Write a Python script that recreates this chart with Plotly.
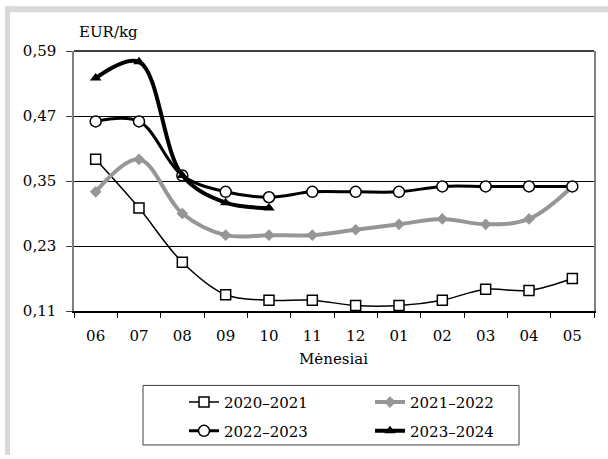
import plotly.graph_objects as go

months = ["06", "07", "08", "09", "10", "11", "12", "01", "02", "03", "04", "05"]
s2020 = [0.39, 0.30, 0.20, 0.14, 0.13, 0.13, 0.12, 0.12, 0.13, 0.15, 0.148, 0.17]
s2021 = [0.33, 0.39, 0.29, 0.25, 0.25, 0.25, 0.26, 0.27, 0.28, 0.27, 0.28, 0.34]
s2022 = [0.46, 0.46, 0.36, 0.33, 0.32, 0.33, 0.33, 0.33, 0.34, 0.34, 0.34, 0.34]
s2023 = [0.54, 0.57, 0.36, 0.31, 0.30]
y_ticks = [0.11, 0.23, 0.35, 0.47, 0.59]

FONT = "DejaVu Serif"
FS = 15
W, H = 608, 459
L, R, T, B = 74, 14, 51, 146
PW, PH = W - L - R, H - T - B

def px(x):
    return (x - L) / PW

def py(y):
    return (H - B - y) / PH

fig = go.Figure()
fig.add_trace(go.Scatter(
    x=months, y=s2020, name="2020–2021", mode="lines+markers",
    line=dict(color="black", width=1.5, shape="spline", smoothing=1),
    marker=dict(symbol="square", size=10, color="white", line=dict(color="black", width=1.5)),
    legend="legend"))
fig.add_trace(go.Scatter(
    x=months, y=s2021, name="2021–2022", mode="lines+markers",
    line=dict(color="#969696", width=4, shape="spline", smoothing=1),
    marker=dict(symbol="diamond", size=9, color="#969696"),
    legend="legend2"))
fig.add_trace(go.Scatter(
    x=months, y=s2022, name="2022–2023", mode="lines+markers",
    line=dict(color="black", width=3, shape="spline", smoothing=1),
    marker=dict(symbol="circle", size=11, color="white", line=dict(color="black", width=1.5)),
    legend="legend3"))
fig.add_trace(go.Scatter(
    x=months[:len(s2023)], y=s2023, name="2023–2024", mode="lines+markers",
    line=dict(color="black", width=4, shape="spline", smoothing=1),
    marker=dict(symbol="triangle-up", size=10, color="black"),
    legend="legend4"))

leg_common = dict(bgcolor="rgba(0,0,0,0)", borderwidth=0,
                  font=dict(family=FONT, size=FS, color="black"),
                  xanchor="left", yanchor="middle", itemwidth=30)

fig.update_layout(
    width=W, height=H,
    margin=dict(l=L, r=R, t=T, b=B, pad=0),
    paper_bgcolor="white", plot_bgcolor="white",
    separators=", ",
    font=dict(family=FONT, size=FS, color="black"),
    showlegend=True,
    legend=dict(x=px(184), y=py(405), **leg_common),
    legend2=dict(x=px(370), y=py(405), **leg_common),
    legend3=dict(x=px(184), y=py(434), **leg_common),
    legend4=dict(x=px(370), y=py(434), **leg_common),
    xaxis=dict(
        type="category", categoryorder="array", categoryarray=months,
        range=[-0.5, len(months) - 0.5],
        showline=True, linecolor="black", linewidth=1.5,
        ticks="outside", tickson="boundaries", ticklen=5, tickcolor="black",
        showgrid=False, tickfont=dict(family=FONT, size=FS),
        ticklabelstandoff=10,
    ),
    yaxis=dict(
        range=[0.11, 0.59], tickvals=y_ticks, tickformat=".2f",
        showline=True, linecolor="#808080", linewidth=1.5, mirror=True,
        ticks="outside", ticklen=6, tickcolor="#404040",
        showgrid=True, gridcolor="black", gridwidth=1,
        zeroline=False, tickfont=dict(family=FONT, size=FS),
        ticklabelstandoff=7,
    ),
    shapes=[
        dict(type="rect", xref="paper", yref="paper", x0=px(5), x1=px(608), y0=py(12), y1=py(6),
             fillcolor="#d9d9d9", line=dict(width=0), layer="below"),
        dict(type="rect", xref="paper", yref="paper", x0=px(5), x1=px(10), y0=py(458), y1=py(6),
             fillcolor="#d9d9d9", line=dict(width=0), layer="below"),
        dict(type="line", xref="paper", yref="paper", x0=0, x1=1, y0=1, y1=1,
             line=dict(color="black", width=1.5)),
        dict(type="rect", xref="paper", yref="paper", x0=px(143), x1=px(519), y0=py(448), y1=py(388),
             fillcolor="rgba(0,0,0,0)", line=dict(color="#404040", width=1)),
    ],
    annotations=[
        dict(text="EUR/kg", xref="paper", yref="paper", x=px(77), y=py(32),
             xanchor="left", yanchor="middle", showarrow=False,
             font=dict(family=FONT, size=FS)),
        dict(text="Mėnesiai", xref="paper", yref="paper", x=px(333), y=py(361),
             xanchor="center", yanchor="middle", showarrow=False,
             font=dict(family=FONT, size=FS)),
    ],
)

fig.write_html("out.html", config={"displayModeBar": False},
               post_script="document.body.style.margin='0';")
